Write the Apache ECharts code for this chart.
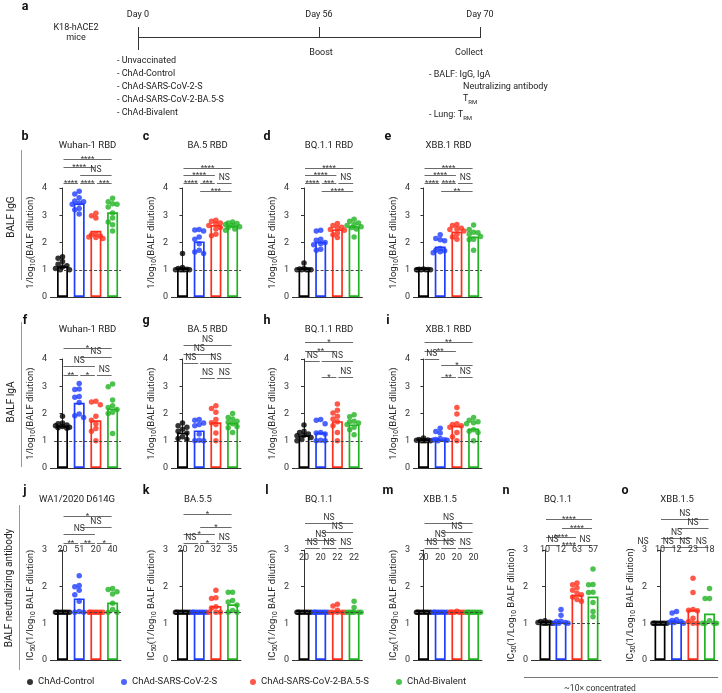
<!DOCTYPE html>
<html><head><meta charset="utf-8">
<script src="https://cdn.jsdelivr.net/npm/echarts@6/dist/echarts.min.js"></script>
<style>html,body{margin:0;padding:0;background:#fff}#c{width:722px;height:693px}</style>
</head><body><div id="c"></div>
<script>
const FONT = 'Roboto, "Liberation Sans", Arial, sans-serif';
const groups = ['ChAd-Control', 'ChAd-SARS-CoV-2-S', 'ChAd-SARS-CoV-2-BA.5-S', 'ChAd-Bivalent'];
const colors = ['#000000', '#1f3dff', '#ff2e1c', '#22b322'];

// ---- BALF IgG ----
const dots_b = [[1.48,1.42,1.3,1.2,1.15,1.1,1.05,1.0,1.0],[3.88,3.78,3.64,3.52,3.5,3.45,3.4,3.25,3.2,3.05],[3.07,2.98,2.9,2.32,2.28,2.24,2.2,2.18,2.15],[3.62,3.5,3.42,3.4,3.3,3.08,2.9,2.75,2.65,2.42]];
const bars_b = [1.13, 3.44, 2.43, 3.11];
const dots_c = [[1.6,1.08,1.05,1.02,1.0,1.0,1.0,1.0,1.0],[2.48,2.46,2.42,2.2,2.12,1.95,1.72,1.65,1.6],[2.82,2.78,2.72,2.68,2.62,2.55,2.5,2.3,2.25],[2.75,2.72,2.7,2.66,2.62,2.58,2.55,2.5,2.45]];
const bars_c = [1.06, 2.04, 2.64, 2.62];
const dots_d = [[1.25,1.05,1.03,1.0,1.0,1.0,1.0,1.0],[2.45,2.42,2.12,2.08,2.0,1.95,1.92,1.75,1.72],[2.7,2.62,2.56,2.52,2.48,2.45,2.35,2.28,2.18],[2.85,2.78,2.72,2.66,2.62,2.58,2.55,2.5,2.2]];
const bars_d = [1.05, 2.03, 2.48, 2.6];
const dots_e = [[1.03,1.02,1.01,1.0,1.0,1.0,1.0,1.0],[2.28,2.15,2.1,2.06,1.78,1.72,1.7,1.66,1.62],[2.66,2.62,2.52,2.5,2.48,2.42,2.3,2.2,2.12],[2.64,2.48,2.38,2.36,2.3,2.22,2.12,2.1,1.72]];
const bars_e = [1.02, 1.85, 2.4, 2.22];
// ---- BALF IgA ----
const dots_f = [[1.9,1.65,1.62,1.58,1.55,1.52,1.5,1.48,1.46],[3.1,2.9,2.88,2.62,2.6,2.4,1.98,1.92,1.85],[2.45,2.42,2.32,1.9,1.75,1.62,1.45,1.35,1.0],[3.08,2.98,2.5,2.28,2.22,2.15,2.05,2.0,1.27]];
const bars_f = [1.55, 2.39, 1.75, 2.18];
const dots_g = [[1.65,1.55,1.5,1.42,1.35,1.28,1.15,1.08,1.05],[1.78,1.75,1.65,1.6,1.55,1.25,1.02,1.0,1.0],[2.28,2.18,2.05,1.78,1.66,1.6,1.28,1.0],[2.0,1.85,1.8,1.72,1.68,1.62,1.52,1.48,1.3]];
const bars_g = [1.3, 1.38, 1.68, 1.66];
const dots_h = [[1.58,1.35,1.3,1.25,1.2,1.18,1.12,1.05,1.0],[1.78,1.75,1.62,1.3,1.28,1.25,1.02,1.0,1.0],[2.35,2.12,2.02,1.9,1.8,1.7,1.55,1.3,1.0],[1.95,1.88,1.72,1.7,1.65,1.6,1.5,1.4,1.22]];
const bars_h = [1.2, 1.3, 1.72, 1.6];
const dots_i = [[1.1,1.05,1.03,1.02,1.0,1.0,1.0,1.0],[1.46,1.34,1.28,1.08,1.05,1.04,1.03,1.02,1.0],[2.22,1.98,1.62,1.6,1.55,1.5,1.3,1.15,1.0],[1.85,1.75,1.7,1.66,1.62,1.4,1.35,1.3,1.0]];
const bars_i = [1.02, 1.05, 1.55, 1.45];
// ---- BALF neutralizing antibody (IC50) ----
const dots_j = [[1.3,1.3,1.3,1.3,1.3,1.3,1.3,1.3],[2.3,2.03,2.0,1.9,1.78,1.6,1.32,1.3,1.3],[1.3,1.3,1.3,1.3,1.3,1.3,1.3,1.3],[1.95,1.92,1.86,1.8,1.55,1.38,1.3,1.3]];
const bars_j = [1.3, 1.68, 1.3, 1.57];
const nums_j = ['20', '51', '20', '40'];
const dots_k = [[1.3,1.3,1.3,1.3,1.3,1.3,1.3,1.3],[1.3,1.3,1.3,1.3,1.3,1.3,1.3,1.3],[1.9,1.7,1.68,1.45,1.42,1.3,1.3,1.3],[1.85,1.85,1.62,1.58,1.5,1.35,1.3,1.3]];
const bars_k = [1.3, 1.3, 1.47, 1.52];
const nums_k = ['20', '20', '32', '35'];
const dots_l = [[1.3,1.3,1.3,1.3,1.3,1.3,1.3,1.3],[1.3,1.3,1.3,1.3,1.3,1.3,1.3,1.3],[1.52,1.47,1.36,1.3,1.3,1.3,1.3,1.3],[1.6,1.43,1.3,1.3,1.3,1.3,1.3,1.3]];
const bars_l = [1.3, 1.3, 1.34, 1.33];
const nums_l = ['20', '20', '22', '22'];
const dots_m = [[1.3,1.3,1.3,1.3,1.3,1.3,1.3,1.3],[1.3,1.3,1.3,1.3,1.3,1.3,1.3,1.3],[1.33,1.3,1.3,1.3,1.3,1.3,1.3,1.3],[1.3,1.3,1.3,1.3,1.3,1.3,1.3,1.3]];
const bars_m = [1.3, 1.3, 1.3, 1.3];
const nums_m = ['20', '20', '20', '20'];
const dots_n = [[1.07,1.05,1.03,1.02,1.0,1.0,1.0,1.0],[1.38,1.22,1.06,1.05,1.02,1.0,1.0,1.0],[2.1,2.05,1.97,1.9,1.82,1.78,1.72,1.65,1.6],[2.48,2.06,2.05,1.85,1.84,1.57,1.32,1.18]];
const bars_n = [1.02, 1.03, 1.77, 1.73];
const nums_n = ['10', '12', '63', '57'];
const dots_o = [[1.0,1.0,1.0,1.0,1.0,1.0,1.0,1.0],[1.32,1.28,1.1,1.08,1.05,1.03,1.02,1.0],[2.23,1.84,1.38,1.36,1.34,1.14,1.05,1.0,1.0],[1.95,1.68,1.68,1.07,1.0,1.0,1.0,1.0]];
const bars_o = [1.0, 1.05, 1.37, 1.27];
const nums_o = ['10', '12', '23', '18'];

// significance: [from, to, label, level (px relative to plot top)]
const sig_b = [[0,1,'****',-5],[1,2,'****',-5],[2,3,'***',-5],[1,3,'NS',-13],[0,2,'****',-21],[0,3,'****',-29]];
const sig_c = [[0,1,'****',-5],[1,2,'***',-5],[2,3,'NS',-5],[1,3,'***',3],[0,2,'****',-13],[0,3,'****',-20]];
const sig_d = [[0,1,'****',-5],[1,2,'***',-5],[2,3,'NS',-5],[1,3,'****',3],[0,2,'****',-13],[0,3,'****',-20]];
const sig_e = [[0,1,'****',-5],[1,2,'****',-5],[2,3,'NS',-5],[1,3,'**',3],[0,2,'****',-13],[0,3,'****',-20]];
const sig_f = [[0,1,'**',16],[1,2,'*',16],[2,3,'NS',16],[0,2,'NS',7],[1,3,'NS',-2],[0,3,'*',-11]];
const sig_g = [[0,3,'NS',-14],[0,2,'NS',-5],[0,1,'NS',4],[1,3,'NS',4],[1,2,'NS',19],[2,3,'NS',19]];
const sig_h = [[0,3,'*',-17],[0,2,'**',-8],[0,1,'NS',2],[1,3,'NS',2],[1,2,'*',18],[2,3,'NS',18]];
const sig_i = [[0,3,'**',-17],[0,2,'**',-8],[0,1,'NS',0],[1,3,'*',6],[1,2,'**',18],[2,3,'NS',18]];
const sig_j = [[0,3,'*',-34],[1,3,'NS',-23],[0,2,'NS',-16],[0,1,'**',-7],[1,2,'**',-7],[2,3,'*',-7]];
const sig_k = [[0,3,'*',-36],[1,3,'*',-23],[0,2,'*',-16],[0,1,'NS',-7],[1,2,'*',-7],[2,3,'NS',-7]];
const sig_l = [[0,3,'NS',-27],[1,3,'NS',-18],[0,2,'NS',-10],[0,1,'NS',-2],[1,2,'NS',-2],[2,3,'NS',-2]];
const sig_m = [[0,3,'NS',-27],[1,3,'NS',-18],[0,2,'NS',-10],[0,1,'NS',-2],[1,2,'NS',-2],[2,3,'NS',-2]];
const sig_n = [[0,3,'****',-31],[1,3,'****',-22],[0,2,'****',-13],[0,1,'NS',-5],[1,2,'****',-5],[2,3,'NS',-5]];
const sig_o = [[0,3,'NS',-31],[1,3,'NS',-22],[0,2,'NS',-12],[0,1,'NS',-3],[1,2,'NS',-3],[2,3,'NS',-3]];

// ---- layout ----
const rows = [
  {top:188, height:109, max:4, dash:1, titleY:146, letterY:137, name:'1/log{s|10}(BALF dilution)'},
  {top:359, height:109, max:4, dash:1, titleY:330, letterY:321, name:'1/log{s|10}(BALF dilution)'},
  {top:550, height:110, max:3, dash:1.3, titleY:500, letterY:491, name:'IC{s|50}(1/log{s|10} BALF dilution)'}
];
const cols = [
  {axisX:50, c0:62.5, s:16.7},
  {axisX:171, c0:182.5, s:16.7},
  {axisX:292, c0:304, s:16.7},
  {axisX:413, c0:423.5, s:16.7},
  {axisX:531, c0:545, s:16},
  {axisX:650, c0:660, s:16.5}
];
const panels = [
  {id:'b', row:0, col:0, title:'Wuhan-1 RBD', dots:dots_b, bars:bars_b, sig:sig_b},
  {id:'c', row:0, col:1, title:'BA.5 RBD', dots:dots_c, bars:bars_c, sig:sig_c},
  {id:'d', row:0, col:2, title:'BQ.1.1 RBD', dots:dots_d, bars:bars_d, sig:sig_d},
  {id:'e', row:0, col:3, title:'XBB.1 RBD', dots:dots_e, bars:bars_e, sig:sig_e},
  {id:'f', row:1, col:0, title:'Wuhan-1 RBD', dots:dots_f, bars:bars_f, sig:sig_f},
  {id:'g', row:1, col:1, title:'BA.5 RBD', dots:dots_g, bars:bars_g, sig:sig_g},
  {id:'h', row:1, col:2, title:'BQ.1.1 RBD', dots:dots_h, bars:bars_h, sig:sig_h},
  {id:'i', row:1, col:3, title:'XBB.1 RBD', dots:dots_i, bars:bars_i, sig:sig_i},
  {id:'j', row:2, col:0, title:'WA1/2020 D614G', dots:dots_j, bars:bars_j, sig:sig_j, nums:nums_j, numDy:0},
  {id:'k', row:2, col:1, title:'BA.5.5', dots:dots_k, bars:bars_k, sig:sig_k, nums:nums_k, numDy:0},
  {id:'l', row:2, col:2, title:'BQ.1.1', dots:dots_l, bars:bars_l, sig:sig_l, nums:nums_l, numDy:8},
  {id:'m', row:2, col:3, title:'XBB.1.5', dots:dots_m, bars:bars_m, sig:sig_m, nums:nums_m, numDy:8},
  {id:'n', row:2, col:4, title:'BQ.1.1', dots:dots_n, bars:bars_n, sig:sig_n, nums:nums_n, numDy:0, dash:1.0, name:'IC{s|50}(1/Log{s|10} BALF dilution)'},
  {id:'o', row:2, col:5, title:'XBB.1.5', dots:dots_o, bars:bars_o, sig:sig_o, nums:nums_o, numDy:0, dash:1.0, name:'IC{s|50}(1/Log{s|10} BALF dilution)', extraNS:true}
];

// deterministic beeswarm offsets (px -> category units)
function swarm(vals, pxY, pxCat) {
  const order = vals.map((v, i) => i).sort((a, b) => vals[b] - vals[a]);
  const placed = [], offs = new Array(vals.length).fill(0);
  const cands = [0, -4.4, 4.4, -7, 7, -2.2, 2.2, -5.8, 5.8];
  for (const i of order) {
    const y = vals[i] * pxY;
    let best = 0, bestD = -1;
    for (const c of cands) {
      let d = Infinity;
      for (const p of placed) d = Math.min(d, Math.hypot(c - p.x, y - p.y));
      if (d >= 4.4) { best = c; bestD = d; break; }
      if (d > bestD) { bestD = d; best = c; }
    }
    placed.push({x: best, y});
    offs[i] = best / pxCat;
  }
  return offs;
}

const SUB = {s: {fontSize: 6.5, verticalAlign: 'bottom', lineHeight: 12, fontFamily: FONT, color: '#222'}};
const grid = [], xAxis = [], yAxis = [], series = [], graphic = [];
const AX = '#333';

function txt(t, x, y, o) {
  o = o || {};
  const st = Object.assign({text: t, x: 0, y: 0, fill: '#222', fontSize: 9.5, fontFamily: FONT,
    textAlign: 'center', align: 'center', textVerticalAlign: 'middle', verticalAlign: 'middle'}, o.style || {});
  graphic.push({type: 'text', silent: true, x: x, y: y, rotation: o.rot || 0, z: 100, style: st});
}
function ln(x1, y1, x2, y2, o) {
  o = o || {};
  graphic.push({type: 'line', silent: true, z: 100, shape: {x1, y1, x2, y2},
    style: {stroke: o.stroke || '#444', lineWidth: o.w || 0.8}});
}

panels.forEach((p, k) => {
  const R = rows[p.row], C = cols[p.col];
  const left = C.c0 - C.s / 2, width = 4 * C.s;
  grid.push({left: left, top: R.top, width: width, height: R.height});
  xAxis.push({gridIndex: k, type: 'category', data: groups, boundaryGap: true,
    axisLine: {lineStyle: {color: AX, width: 1}},
    axisTick: {alignWithLabel: true, length: 3, lineStyle: {color: AX}},
    axisLabel: {show: false}, splitLine: {show: false}});
  xAxis.push({gridIndex: k, type: 'value', min: -0.5, max: 3.5, show: false});
  yAxis.push({gridIndex: k, type: 'value', min: 0, max: R.max, interval: 1, offset: left - C.axisX,
    axisLine: {show: true, lineStyle: {color: AX, width: 1}},
    axisTick: {show: true, length: 3, lineStyle: {color: AX}},
    axisLabel: {fontSize: 9, color: '#333', margin: 3, fontFamily: FONT},
    splitLine: {show: false},
    name: p.name || R.name, nameLocation: 'middle', nameGap: 13,
    nameTextStyle: {fontSize: 9.5, color: '#222', fontFamily: FONT, lineHeight: 12, rich: SUB}});
  const dash = (p.dash !== undefined) ? p.dash : R.dash;
  series.push({type: 'bar', xAxisIndex: 2 * k, yAxisIndex: k, barWidth: 11, silent: true, z: 2,
    data: p.bars.map((v, i) => ({value: v, itemStyle: {color: '#ffffff', borderColor: colors[i], borderWidth: 1.7}})),
    markLine: {silent: true, symbol: 'none', label: {show: false},
      lineStyle: {type: [3, 2], color: '#444', width: 1}, data: [{yAxis: dash}]}});
  p.dots.forEach((arr, i) => {
    const offs = swarm(arr, R.height / R.max, C.s);
    series.push({type: 'scatter', name: groups[i], xAxisIndex: 2 * k + 1, yAxisIndex: k,
      symbol: 'circle', symbolSize: 5.5, z: 3, silent: true,
      itemStyle: {color: colors[i]},
      data: arr.map((v, j) => [i + offs[j], v])});
  });
  // close the gap between y axis and x axis line
  ln(C.axisX, R.top + R.height + 0.5, left, R.top + R.height + 0.5, {stroke: AX, w: 1});
  const cx = i => left + (i + 0.5) * C.s;
  // title + letter
  const tX = p.row === 2 ? C.axisX + 27 : left + width / 2;
  txt(p.title, tX, R.titleY, {style: {fontSize: 9.5}});
  txt(p.id, C.axisX - 25, R.letterY, {style: {fontSize: 12.5, fontWeight: 'bold', fill: '#111'}});
  // significance brackets
  p.sig.forEach(s => {
    const y = Math.round(R.top + s[3]) + 0.5;
    ln(cx(s[0]) + 1, y, cx(s[1]) - 1, y);
    const star = s[2].indexOf('*') >= 0;
    txt(s[2], (cx(s[0]) + cx(s[1])) / 2, star ? y + 3.2 : y - 0.8,
      {style: {fontSize: star ? 8 : 8.5, textVerticalAlign: 'bottom', verticalAlign: 'bottom', fill: '#333'}});
  });
  if (p.nums) p.nums.forEach((t, i) => txt(t, cx(i), R.top + p.numDy, {style: {fontSize: 9, fill: '#333'}}));
  if (p.extraNS) txt('NS', C.axisX - 7, R.top - 8, {style: {fontSize: 8.5, fill: '#333'}});
});

// ---- panel a (timeline) ----
txt('a', 25, 7, {style: {fontSize: 12.5, fontWeight: 'bold', fill: '#111'}});
txt('K18-hACE2', 76, 28, {style: {fontSize: 9}});
txt('mice', 76, 38, {style: {fontSize: 9}});
txt('Day 0', 138, 15, {style: {fontSize: 9}});
txt('Day 56', 319, 15, {style: {fontSize: 9}});
txt('Day 70', 480, 15, {style: {fontSize: 9}});
ln(138, 37.5, 481, 37.5, {stroke: '#333', w: 1});
ln(138.5, 27, 138.5, 50, {stroke: '#333', w: 1});
ln(319.5, 27, 319.5, 37, {stroke: '#333', w: 1});
ln(480.5, 27, 480.5, 37, {stroke: '#333', w: 1});
txt('Boost', 321, 53, {style: {fontSize: 9}});
txt('Collect', 469, 53, {style: {fontSize: 9}});
const aList = ['- Unvaccinated', '- ChAd-Control', '- ChAd-SARS-CoV-2-S', '- ChAd-SARS-CoV-2-BA.5-S', '- ChAd-Bivalent'];
const aListY = [61, 74, 87, 100, 113];
aList.forEach((t, i) => txt(t, 117, aListY[i], {style: {fontSize: 9, textAlign: 'left', align: 'left'}}));
const RM = {s: {fontSize: 6, verticalAlign: 'bottom', lineHeight: 13, fontFamily: FONT, color: '#222'}};
txt('- BALF: IgG, IgA', 429, 75, {style: {fontSize: 9, textAlign: 'left', align: 'left'}});
txt('Neutralizing antibody', 463, 87, {style: {fontSize: 9, textAlign: 'left', align: 'left'}});
txt('T{s|RM}', 463, 99, {style: {fontSize: 9, textAlign: 'left', align: 'left', lineHeight: 11, rich: RM}});
txt('- Lung: T{s|RM}', 429, 115, {style: {fontSize: 9, textAlign: 'left', align: 'left', lineHeight: 11, rich: RM}});

// ---- row labels ----
txt('BALF IgG', 11, 217, {rot: Math.PI / 2, style: {fontSize: 10}});
ln(21.5, 150, 21.5, 280, {stroke: '#999', w: 1});
txt('BALF IgA', 11, 402, {rot: Math.PI / 2, style: {fontSize: 10}});
ln(21.5, 322, 21.5, 467, {stroke: '#999', w: 1});
txt('BALF neutralizing antibody', 9, 588, {rot: Math.PI / 2, style: {fontSize: 10}});
ln(19.5, 505, 19.5, 670, {stroke: '#999', w: 1});

// ---- concentrated bracket ----
ln(524, 677.5, 718, 677.5, {stroke: '#777', w: 1});
txt('~10× concentrated', 600, 689, {style: {fontSize: 8.5, fill: '#333'}});

const legX = [27, 121, 250, 396];
const legend = groups.map((g, i) => ({data: [{name: g, icon: 'circle'}], left: legX[i], top: 677,
  itemWidth: 6, itemHeight: 6, itemGap: 0, padding: 0, selectedMode: false,
  textStyle: {fontSize: 9.5, color: '#222', fontFamily: FONT}}));

const chart = echarts.init(document.getElementById('c'), null, {renderer: 'canvas'});
chart.setOption({
  animation: false,
  backgroundColor: '#ffffff',
  textStyle: {fontFamily: FONT},
  grid: grid, xAxis: xAxis, yAxis: yAxis, series: series,
  legend: legend, graphic: graphic
});
</script>
</body></html>
